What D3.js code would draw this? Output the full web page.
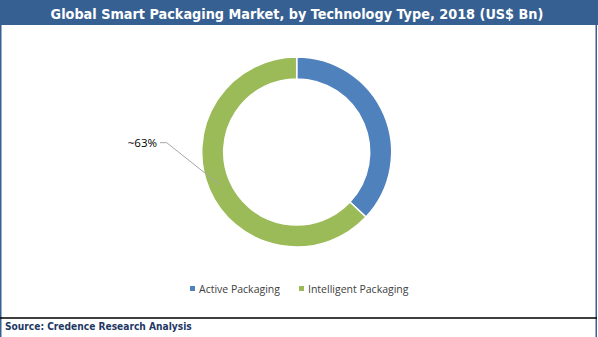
<!DOCTYPE html>
<html><head><meta charset="utf-8">
<script src="https://cdn.jsdelivr.net/npm/d3@7"></script>
<style>body{margin:0;background:#fff}svg{display:block}</style>
</head><body>
<svg id="c" width="598" height="337"></svg>
<script>
const title = "Global Smart Packaging Market, by Technology Type, 2018 (US$ Bn)";
const source = "Source: Credence Research Analysis";
const categories = ["Active Packaging", "Intelligent Packaging"];
const values = [37, 63];
const colors = ["#4F81BD", "#9BBB59"];
const labels = [null, "~63%"];

const svg = d3.select("#c");
const W = 598, H = 337;
svg.append("rect").attr("x",0).attr("y",0).attr("width",W).attr("height",H).attr("fill","#fff");
// title bar
svg.append("rect").attr("x",0).attr("y",0).attr("width",W).attr("height",25).attr("fill","#376092");
const t = svg.append("text").attr("x",W/2-2).attr("y",19).attr("text-anchor","middle")
  .attr("font-family","'DejaVu Sans Condensed', 'DejaVu Sans', sans-serif").attr("font-weight","bold")
  .attr("font-size",16).attr("fill","#fff").text(title);
const tw = t.node().getComputedTextLength();
if (Math.abs(tw-493) > 6) t.attr("font-size", 16*493/tw);
// borders
svg.append("line").attr("x1",0.75).attr("x2",0.75).attr("y1",0).attr("y2",H).attr("stroke","#376092").attr("stroke-width",1.5);
svg.append("line").attr("x1",596.25).attr("x2",596.25).attr("y1",0).attr("y2",H).attr("stroke","#376092").attr("stroke-width",1.5);
svg.append("line").attr("x1",0).attr("x2",597).attr("y1",318).attr("y2",318).attr("stroke","#000").attr("stroke-width",1.5);
const s = svg.append("text").attr("x",5).attr("y",330)
  .attr("font-family","'DejaVu Sans Condensed', 'DejaVu Sans', sans-serif").attr("font-weight","bold")
  .attr("font-size",10.5).attr("fill","#1F3864").text(source);
const sw = s.node().getComputedTextLength();
if (Math.abs(sw-187) > 4) s.attr("font-size", 10.5*187/sw);

// donut
const cx = 296.7, cy = 152, R = 95, r = 73;
const pie = d3.pie().sort(null).value(d=>d)(values);
const arc = d3.arc().innerRadius(r).outerRadius(R);
const g = svg.append("g").attr("transform",`translate(${cx},${cy})`);
g.selectAll("path").data(pie).join("path").attr("d",arc)
  .attr("fill",(d,i)=>colors[i]).attr("stroke","#fff").attr("stroke-width",1.5);

// label for intelligent packaging
svg.append("polyline")
  .attr("points",[[160,142.7],[166.7,142.7],[220,185]].map(p=>p.join(",")).join(" "))
  .attr("fill","none").attr("stroke","#A6A6A6").attr("stroke-width",1);
svg.append("text").attr("x",157).attr("y",147).attr("text-anchor","end")
  .attr("font-family","'Open Sans', 'Liberation Sans', sans-serif")
  .attr("font-size",11.5).attr("fill","#000").text(labels[1]);

// legend
const leg = svg.append("g");
const legX = [190, 299];
categories.forEach((c,i)=>{
  leg.append("rect").attr("x",legX[i]).attr("y",286).attr("width",5).attr("height",5).attr("fill",colors[i]);
  leg.append("text").attr("x",legX[i]+9).attr("y",292.5)
    .attr("font-family","'Open Sans', 'Liberation Sans', sans-serif").attr("font-size",10.5).attr("fill","#404040").text(c);
});
</script>
</body></html>
